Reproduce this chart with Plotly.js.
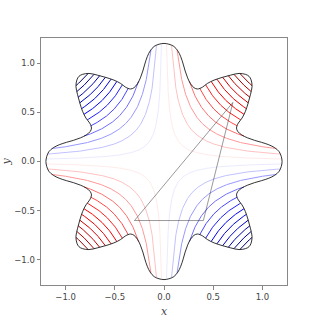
<!DOCTYPE html>
<html><head><meta charset="utf-8">
<script src="https://cdn.plot.ly/plotly-3.0.1.min.js"></script>
<style>html,body{margin:0;padding:0;background:#fff}#chart{width:320px;height:320px}</style>
</head><body><div id="chart"></div>
<script>
// contour levels of the field x*y
const levels = [-0.75,-0.69,-0.63,-0.57,-0.51,-0.45,-0.39,-0.33,-0.27,-0.21,-0.15,-0.09,-0.03,
                0.03,0.09,0.15,0.21,0.27,0.33,0.39,0.45,0.51,0.57,0.63,0.69,0.75];
// star-shaped boundary
const boundaryX = [1.200,1.192,1.170,1.125,1.065,0.990,0.920,0.850,0.790,0.750,0.737,0.755,0.793,0.827,0.855,0.878,0.895,0.885,0.865,0.830,0.763,0.678,0.593,0.509,0.441,0.390,0.340,0.305,0.270,0.240,0.215,0.195,0.170,0.140,0.100,0.050,0.000,
 -0.050,-0.100,-0.140,-0.170,-0.195,-0.215,-0.240,-0.270,-0.305,-0.340,-0.390,-0.441,-0.509,-0.593,-0.678,-0.763,-0.830,-0.865,-0.885,-0.895,-0.878,-0.855,-0.827,-0.793,-0.755,-0.737,-0.750,-0.790,-0.850,-0.920,-0.990,-1.065,-1.125,-1.170,-1.192,-1.200,
 -1.192,-1.170,-1.125,-1.065,-0.990,-0.920,-0.850,-0.790,-0.750,-0.737,-0.755,-0.793,-0.827,-0.855,-0.878,-0.895,-0.885,-0.865,-0.830,-0.763,-0.678,-0.593,-0.509,-0.441,-0.390,-0.340,-0.305,-0.270,-0.240,-0.215,-0.195,-0.170,-0.140,-0.100,-0.050,0.000,
 0.050,0.100,0.140,0.170,0.195,0.215,0.240,0.270,0.305,0.340,0.390,0.441,0.509,0.593,0.678,0.763,0.830,0.865,0.885,0.895,0.878,0.855,0.827,0.793,0.755,0.737,0.750,0.790,0.850,0.920,0.990,1.065,1.125,1.170,1.192,1.200];
const boundaryY = [0.000,0.050,0.100,0.140,0.170,0.195,0.215,0.240,0.270,0.305,0.340,0.390,0.441,0.509,0.593,0.678,0.763,0.830,0.865,0.885,0.895,0.878,0.855,0.827,0.793,0.755,0.737,0.750,0.790,0.850,0.920,0.990,1.065,1.125,1.170,1.192,1.200,
 1.192,1.170,1.125,1.065,0.990,0.920,0.850,0.790,0.750,0.737,0.755,0.793,0.827,0.855,0.878,0.895,0.885,0.865,0.830,0.763,0.678,0.593,0.509,0.441,0.390,0.340,0.305,0.270,0.240,0.215,0.195,0.170,0.140,0.100,0.050,0.000,
 -0.050,-0.100,-0.140,-0.170,-0.195,-0.215,-0.240,-0.270,-0.305,-0.340,-0.390,-0.441,-0.509,-0.593,-0.678,-0.763,-0.830,-0.865,-0.885,-0.895,-0.878,-0.855,-0.827,-0.793,-0.755,-0.737,-0.750,-0.790,-0.850,-0.920,-0.990,-1.065,-1.125,-1.170,-1.192,-1.200,
 -1.192,-1.170,-1.125,-1.065,-0.990,-0.920,-0.850,-0.790,-0.750,-0.737,-0.755,-0.793,-0.827,-0.855,-0.878,-0.895,-0.885,-0.865,-0.830,-0.763,-0.678,-0.593,-0.509,-0.441,-0.390,-0.340,-0.305,-0.270,-0.240,-0.215,-0.195,-0.170,-0.140,-0.100,-0.050,0.000];
// triangle
const triX = [0.70,-0.30,0.40,0.70];
const triY = [0.60,-0.60,-0.60,0.60];
const tickVals = [-1,-0.5,0,0.5,1];
const tickText = ['\u22121.0','\u22120.5','0.0','0.5','1.0'];

// seismic colormap
const seismic = [[0,[0,0,0.3]],[0.25,[0,0,1]],[0.5,[1,1,1]],[0.75,[1,0,0]],[1,[0.5,0,0]]];
function cmap(v){
  for(let i=0;i<seismic.length-1;i++){
    const [a,ca]=seismic[i],[b,cb]=seismic[i+1];
    if(v<=b+1e-12){const f=(v-a)/(b-a);
      const c=ca.map((q,k)=>Math.round(255*(q+(cb[k]-q)*f)));
      return 'rgb('+c.join(',')+')';}
  }
  return 'rgb(128,0,0)';
}
const n=boundaryX.length;
function inside(px,py){
  let ins=false;
  for(let i=0,j=n-1;i<n;j=i++){
    const xi=boundaryX[i],yi=boundaryY[i],xj=boundaryX[j],yj=boundaryY[j];
    if(((yi>py)!==(yj>py)) && (px<(xj-xi)*(py-yi)/(yj-yi)+xi)) ins=!ins;
  }
  return ins;
}
const vmin=Math.min(...levels), vmax=Math.max(...levels);
const traces=[];
levels.forEach(c=>{
  const a=Math.sqrt(Math.abs(c));
  const col=cmap((c-vmin)/(vmax-vmin));
  [1,-1].forEach(sx=>{
    const sy = c>0 ? sx : -sx;
    const pt=t=>[sx*a*Math.exp(t), sy*a*Math.exp(-t)];
    const xs=[],ys=[];
    let prevIn=false, prevT=null;
    for(let t=-3;t<=3;t+=0.004){
      const [x,y]=pt(t); const ins=inside(x,y);
      if(prevT!==null && ins!==prevIn){
        let lo=prevT,hi=t;
        for(let k=0;k<30;k++){const m=(lo+hi)/2;const [mx,my]=pt(m);
          if(inside(mx,my)===prevIn) lo=m; else hi=m;}
        const [ex,ey]=pt((lo+hi)/2);
        if(ins){ xs.push(ex); ys.push(ey); }
        else { xs.push(ex); ys.push(ey); xs.push(null); ys.push(null); }
      }
      if(ins){xs.push(x);ys.push(y);}
      prevIn=ins; prevT=t;
    }
    traces.push({type:'scatter',mode:'lines',x:xs,y:ys,hoverinfo:'skip',
      line:{color:col,width:1.0},showlegend:false,connectgaps:false});
  });
});
traces.push({type:'scatter',mode:'lines',x:boundaryX,y:boundaryY,
  line:{color:'rgba(0,0,0,0.8)',width:1.0,shape:'spline',smoothing:1},showlegend:false,hoverinfo:'skip'});
traces.push({type:'scatter',mode:'lines',x:triX,y:triY,
  line:{color:'rgba(0,0,0,0.5)',width:0.8},showlegend:false,hoverinfo:'skip'});

const axisCommon = {range:[-1.25,1.25],tickvals:tickVals,ticktext:tickText,ticks:'outside',ticklen:3.5,
  tickwidth:0.8,tickcolor:'#666',showline:true,mirror:true,linecolor:'#888',linewidth:1,
  showgrid:false,zeroline:false,tickfont:{family:'DejaVu Sans',size:8.5,color:'#444'}};
const layout = {
  width:320,height:320,margin:{l:41,r:33,t:38,b:35},
  paper_bgcolor:'#fff',plot_bgcolor:'#fff',
  xaxis:Object.assign({},axisCommon,{title:{text:'<i>x</i>',font:{family:'DejaVu Serif',size:11,color:'#444'},standoff:6}}),
  yaxis:Object.assign({},axisCommon,{scaleanchor:'x',scaleratio:1,
    title:{text:'<i>y</i>',font:{family:'DejaVu Serif',size:11,color:'#444'},standoff:8}}),
};
Plotly.newPlot('chart',traces,layout,{displayModeBar:false,staticPlot:true});
</script></body></html>
